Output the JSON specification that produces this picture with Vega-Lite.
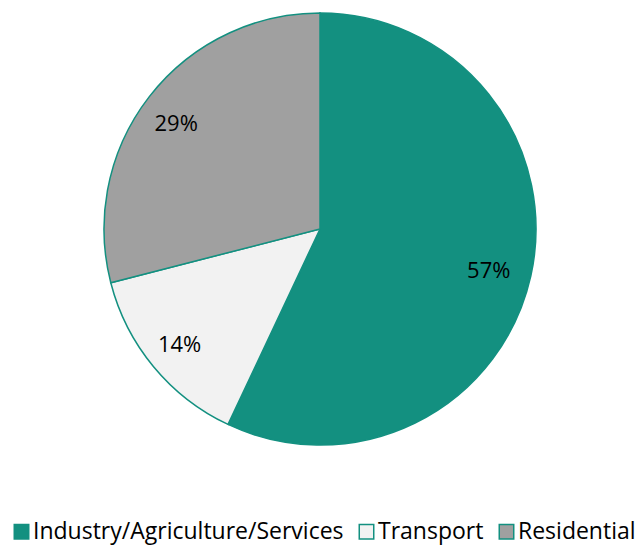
{
  "$schema": "https://vega.github.io/schema/vega-lite/v6.json",
  "width": 640,
  "height": 458,
  "padding": {"top": 0, "left": 0, "right": 0, "bottom": 88},
  "autosize": {"type": "none"},
  "background": "white",
  "data": {"values": [
    {"category": "Industry/Agriculture/Services", "value": 57, "label": "57%", "order": 1},
    {"category": "Transport", "value": 14, "label": "14%", "order": 2},
    {"category": "Residential", "value": 29, "label": "29%", "order": 3}
  ]},
  "encoding": {
    "theta": {"field": "value", "type": "quantitative", "stack": true},
    "order": {"field": "order", "type": "quantitative"}
  },
  "layer": [
    {
      "mark": {"type": "arc", "radius": 216, "stroke": "#139080", "strokeWidth": 1.5},
      "encoding": {
        "color": {
          "field": "category", "type": "nominal",
          "scale": {"domain": ["Industry/Agriculture/Services", "Transport", "Residential"], "range": ["#139080", "#f2f2f2", "#a0a0a0"]},
          "sort": ["Industry/Agriculture/Services", "Transport", "Residential"],
          "legend": {
            "title": null, "orient": "none", "direction": "horizontal",
            "legendX": 10, "legendY": 520,
            "symbolType": "square", "symbolSize": 210,
            "symbolStrokeColor": "#139080", "symbolStrokeWidth": 1.5,
            "labelFont": "Open Sans", "labelFontSize": 23, "labelColor": "#000000",
            "labelOffset": 0, "columnPadding": 11, "labelLimit": 400
          }
        }
      }
    },
    {
      "mark": {"type": "text", "radius": 177, "dx": -4, "dy": 3, "font": "Open Sans", "fontSize": 22, "color": "#000000"},
      "encoding": {"text": {"field": "label"}}
    }
  ]
}
